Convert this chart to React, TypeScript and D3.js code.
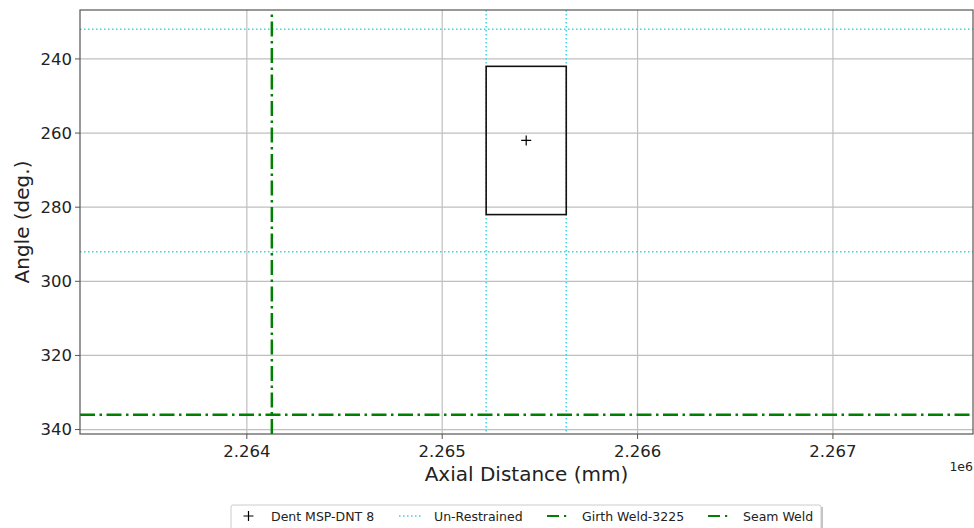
import * as React from 'react';
import * as d3 from 'd3';

const W = 974;
const H = 528;

// axis ticks
const xTicks = [2264000, 2265000, 2266000, 2267000];
const yTicks = [240, 260, 280, 300, 320, 340];

// dent feature (axial mm, angle deg)
const dentX = [2265430];
const dentY = [262];
const dentBoxX = [2265225, 2265635];
const dentBoxY = [242, 282];

// un-restrained limits
const unRestrainedX = [2265225, 2265635];
const unRestrainedY = [232, 292];

// welds
const girthWeldX = [2264128];
const seamWeldY = [336];

const legendItems = ['Dent MSP-DNT 8', 'Un-Restrained', 'Girth Weld-3225', 'Seam Weld'];

const font = 'DejaVu Sans, sans-serif';
const cyan = '#3dd3da';
const green = '#008000';
const dashDot = '15,4.5,2.5,4.5';

export default function App() {
  const plot = { left: 80, top: 10, right: 973, bottom: 434 };

  const x = React.useMemo(
    () => d3.scaleLinear().domain([2263146, 2267717]).range([plot.left, plot.right]),
    []
  );
  const y = React.useMemo(
    () => d3.scaleLinear().domain([226.8, 341.2]).range([plot.top, plot.bottom]),
    []
  );
  const fmtX = (v: number) => d3.format('.3f')(v / 1e6);

  // legend layout (x of each handle start, text start)
  const legendHandleX = [236, 399, 547, 708];
  const legendTextX = [271, 434, 582, 743];
  const handleLen = 25;
  const legY = 516;

  return (
    <div style={{ position: 'absolute', left: 0, top: 0 }}>
      <svg width={W} height={H} style={{ display: 'block', fontFamily: font }}>
        <rect width={W} height={H} fill="#fff" />
        <defs>
          <clipPath id="plotClip">
            <rect x={plot.left} y={plot.top} width={plot.right - plot.left} height={plot.bottom - plot.top} />
          </clipPath>
        </defs>

        {/* grid */}
        <g stroke="#b0b0b0" strokeWidth={1.2} opacity={0.8}>
          {xTicks.map((t) => (
            <line key={'gx' + t} x1={x(t)} x2={x(t)} y1={plot.top} y2={plot.bottom} />
          ))}
          {yTicks.map((t) => (
            <line key={'gy' + t} x1={plot.left} x2={plot.right} y1={y(t)} y2={y(t)} />
          ))}
        </g>

        <g clipPath="url(#plotClip)">
          {/* un-restrained dotted lines */}
          {unRestrainedX.map((v) => (
            <line key={'ux' + v} x1={x(v)} x2={x(v)} y1={plot.top} y2={plot.bottom}
              stroke={cyan} strokeWidth={1.5} strokeDasharray="1.5,2.5" />
          ))}
          {unRestrainedY.map((v) => (
            <line key={'uy' + v} x1={plot.left} x2={plot.right} y1={y(v)} y2={y(v)}
              stroke={cyan} strokeWidth={1.5} strokeDasharray="1.5,2.5" />
          ))}

          {/* dent box */}
          <rect
            x={x(dentBoxX[0])}
            y={y(dentBoxY[0])}
            width={x(dentBoxX[1]) - x(dentBoxX[0])}
            height={y(dentBoxY[1]) - y(dentBoxY[0])}
            fill="none"
            stroke="#111"
            strokeWidth={1.6}
          />
          {dentX.map((v, i) => (
            <path key={'d' + i}
              d={`M${x(v) - 5},${y(dentY[i])}h10M${x(v)},${y(dentY[i]) - 5}v10`}
              stroke="#000" strokeWidth={1.2} />
          ))}

          {/* girth weld */}
          {girthWeldX.map((v) => (
            <line key={'gw' + v} x1={x(v)} x2={x(v)} y1={plot.bottom} y2={plot.top}
              stroke={green} strokeWidth={2.5} strokeDasharray={dashDot} />
          ))}
          {/* seam weld */}
          {seamWeldY.map((v) => (
            <line key={'sw' + v} x1={plot.left} x2={plot.right} y1={y(v)} y2={y(v)}
              stroke={green} strokeWidth={2.5} strokeDasharray={dashDot} />
          ))}
        </g>

        {/* spines */}
        <rect x={plot.left} y={plot.top} width={plot.right - plot.left} height={plot.bottom - plot.top}
          fill="none" stroke="#555" strokeWidth={1.2} />

        {/* x ticks */}
        <g fontSize={16.5} fill="#222" textAnchor="middle">
          {xTicks.map((t) => (
            <g key={'xt' + t}>
              <line x1={x(t)} x2={x(t)} y1={plot.bottom} y2={plot.bottom + 5} stroke="#555" strokeWidth={1} />
              <text x={x(t)} y={plot.bottom + 23}>{fmtX(t)}</text>
            </g>
          ))}
        </g>
        <text x={973} y={471} fontSize={12.5} textAnchor="end" fill="#222">1e6</text>

        {/* y ticks */}
        <g fontSize={16.5} fill="#222" textAnchor="end">
          {yTicks.map((t) => (
            <g key={'yt' + t}>
              <line x1={plot.left - 5} x2={plot.left} y1={y(t)} y2={y(t)} stroke="#555" strokeWidth={1} />
              <text x={plot.left - 8} y={y(t)} dy="0.36em">{t}</text>
            </g>
          ))}
        </g>

        {/* axis labels */}
        <text x={(plot.left + plot.right) / 2} y={481} fontSize={20} textAnchor="middle" fill="#222">
          Axial Distance (mm)
        </text>
        <text transform={`translate(29,${(plot.top + plot.bottom) / 2}) rotate(-90)`} fontSize={20}
          textAnchor="middle" fill="#222">
          Angle (deg.)
        </text>

        {/* legend */}
        <g>
          <rect x={233} y={507} width={590} height={24} fill="#888" opacity={0.5} />
          <rect x={231} y={505} width={590} height={24} rx={2} fill="#fff" stroke="#ccc" strokeWidth={1} />
          <path d={`M${legendHandleX[0] + handleLen / 2 - 5},${legY}h10M${legendHandleX[0] + handleLen / 2},${legY - 5}v10`}
            stroke="#000" strokeWidth={1.2} />
          <line x1={legendHandleX[1]} x2={legendHandleX[1] + handleLen - 2} y1={legY} y2={legY}
            stroke={cyan} strokeWidth={1.5} strokeDasharray="1.5,2.5" />
          {[2, 3].map((i) => (
            <line key={'lh' + i} x1={legendHandleX[i]} x2={legendHandleX[i] + handleLen} y1={legY} y2={legY}
              stroke={green} strokeWidth={2.2} strokeDasharray="12,5,2.2,10" />
          ))}
          {legendItems.map((s, i) => (
            <text key={s} x={legendTextX[i]} y={legY} dy="0.36em" fontSize={12.5} fill="#222">{s}</text>
          ))}
        </g>
      </svg>
    </div>
  );
}
